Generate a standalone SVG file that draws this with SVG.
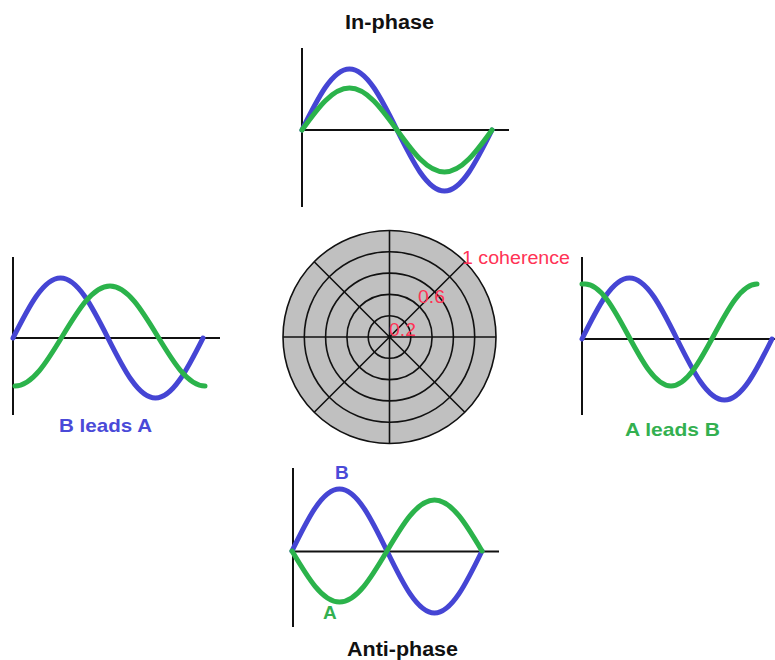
<svg xmlns="http://www.w3.org/2000/svg" width="775" height="660" viewBox="0 0 775 660">
<style>
.axis{stroke:#111;stroke-width:2;fill:none}
.wb{stroke:#4545d4;stroke-width:5;fill:none;stroke-linecap:round;stroke-linejoin:round}
.wg{stroke:#2bb34b;stroke-width:5;fill:none;stroke-linecap:round;stroke-linejoin:round}
.title{font-family:"Liberation Sans",Arial,sans-serif;font-weight:bold;font-size:20px;fill:#111}
.lbl{font-family:"Liberation Sans",Arial,sans-serif;font-weight:bold;font-size:19px}
.red{font-family:"Liberation Sans",Arial,sans-serif;font-size:18px;fill:#ff3355}
.grid{stroke:#111;stroke-width:1.6;fill:none}
</style>
<rect width="775" height="660" fill="#fff"/>

<g id="in-phase">
<text class="title" x="345" y="29" textLength="89" lengthAdjust="spacingAndGlyphs">In-phase</text>
<path class="axis" d="M302,48 V207 M302,130 H509"/>
<path class="wb" d="M302,130 c15.49,-31.25 30.31,-61 47.5,-61 c17.19,0 32.01,29.75 47.5,61 c15.49,31.25 30.31,61 47.5,61 c17.19,0 32.01,-29.75 47.5,-61"/>
<path class="wg" d="M302,130 c15.49,-21.52 30.31,-42 47.5,-42 c17.19,0 32.01,20.48 47.5,42 c15.49,21.52 30.31,42 47.5,42 c17.19,0 32.01,-20.48 47.5,-42"/>
</g>

<g id="b-leads-a">
<path class="axis" d="M13,257 V415 M13,338 H220"/>
<path class="wb" d="M13,338 c15.49,-30.74 30.31,-60 47.5,-60 c17.19,0 32.01,29.26 47.5,60 c15.49,30.74 30.31,60 47.5,60 c17.19,0 32.01,-29.26 47.5,-60"/>
<path class="wg" d="M15,386 c17.19,0 32.01,-24.38 47.5,-50 c15.49,-25.62 30.31,-50 47.5,-50 c17.19,0 32.01,24.38 47.5,50 c15.49,25.62 30.31,50 47.5,50"/>
<text class="lbl" x="59" y="432" fill="#4a4ad8" textLength="93" lengthAdjust="spacingAndGlyphs">B leads A</text>
</g>

<g id="a-leads-b">
<path class="axis" d="M582,257 V415 M582,339 H775"/>
<path class="wb" d="M582,339 c15.49,-31.25 30.31,-61 47.5,-61 c17.19,0 32.01,29.75 47.5,61 c15.49,31.25 30.31,61 47.5,61 c17.19,0 32.01,-29.75 47.5,-61"/>
<path class="wg" d="M582,284 h3 c15.56,0 28.98,24.87 43,51 c14.02,26.13 27.44,51 43,51 c15.56,0 28.98,-24.87 43,-51 c14.02,-26.13 27.44,-51 43,-51"/>
<text class="lbl" x="625" y="436" fill="#33b050" textLength="95" lengthAdjust="spacingAndGlyphs">A leads B</text>
</g>

<g id="anti-phase">
<path class="axis" d="M293,468 V627 M293,551.5 H499"/>
<path class="wb" d="M292,551 c15.49,-31.76 30.31,-62 47.5,-62 c17.19,0 32.01,30.24 47.5,62 c15.49,31.76 30.31,62 47.5,62 c17.19,0 32.01,-30.24 47.5,-62"/>
<path class="wg" d="M292,551 c15.49,26.13 30.31,51 47.5,51 c17.19,0 32.01,-24.87 47.5,-51 c15.49,-26.13 30.31,-51 47.5,-51 c17.19,0 32.01,24.87 47.5,51"/>
<text class="lbl" x="335" y="479" fill="#4a4ad8">B</text>
<text class="lbl" x="323" y="619" fill="#33b050">A</text>
<text class="title" x="347" y="656" textLength="111" lengthAdjust="spacingAndGlyphs">Anti-phase</text>
</g>

<g id="coherence-polar">
<circle cx="389.5" cy="337" r="106.5" fill="#c0c0c0" stroke="#111" stroke-width="1.6"/>
<circle class="grid" cx="389.5" cy="337" r="85.2"/>
<circle class="grid" cx="389.5" cy="337" r="63.9"/>
<circle class="grid" cx="389.5" cy="337" r="42.6"/>
<circle class="grid" cx="389.5" cy="337" r="21.3"/>
<path class="grid" d="M283,337 H496 M389.5,230.5 V443.5 M314.2,261.7 L464.8,412.3 M464.8,261.7 L314.2,412.3"/>
<text class="red" x="462" y="264" textLength="108" lengthAdjust="spacingAndGlyphs">1 coherence</text>
<text class="red" x="418" y="303" textLength="27" lengthAdjust="spacingAndGlyphs">0.6</text>
<text class="red" x="389" y="336" textLength="27" lengthAdjust="spacingAndGlyphs">0.2</text>
</g>
</svg>
